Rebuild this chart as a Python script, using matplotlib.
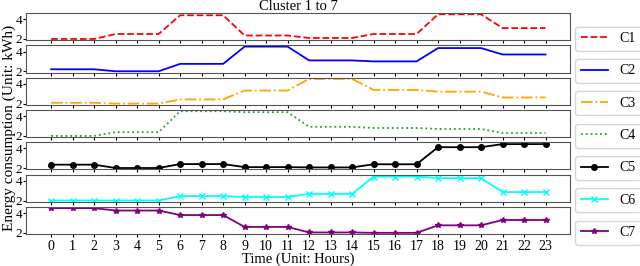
import numpy as np
import matplotlib
matplotlib.use('Agg')
import matplotlib.pyplot as plt

plt.rcParams['font.family'] = 'Liberation Serif'
plt.rcParams['font.size'] = 10

hours = list(range(24))

c1 = [2.0]*3 + [2.5]*3 + [4.4]*3 + [2.35]*3 + [2.1]*3 + [2.5]*3 + [4.5]*3 + [3.1]*3
c2 = [2.2]*3 + [2.0]*3 + [2.75]*3 + [4.5]*3 + [3.1]*3 + [3.0]*3 + [4.35]*3 + [3.7]*3
c3 = [2.08]*3 + [2.0]*3 + [2.42]*3 + [3.32]*3 + [4.5]*3 + [3.38]*3 + [3.21]*3 + [2.62]*3
c4 = [2.0]*3 + [2.38]*3 + [4.5]*3 + [4.4]*3 + [2.92]*3 + [2.8]*3 + [2.7]*3 + [2.3]*3
c5 = [2.36]*3 + [2.02]*3 + [2.42]*3 + [2.11]*3 + [2.08]*3 + [2.4]*3 + [4.13]*3 + [4.44]*3
c6 = [2.0]*6 + [2.45]*3 + [2.36]*3 + [2.67]*3 + [4.43]*3 + [4.27]*3 + [2.86]*3
c7 = [4.5]*3 + [4.26]*3 + [3.8]*3 + [2.6]*3 + [2.04]*3 + [2.0]*3 + [2.76]*3 + [3.3]*3

series = [c1, c2, c3, c4, c5, c6, c7]
labels = ['C1', 'C2', 'C3', 'C4', 'C5', 'C6', 'C7']
colors = ['red', 'blue', 'orange', 'tab:green', 'black', 'cyan', 'purple']
styles = ['--', '-', '-.', ':', '-', '-', '-']
markers = [None, None, None, None, 'o', 'x', '*']

fig, axes = plt.subplots(7, 1, figsize=(6.4, 2.66), dpi=100, sharex=True, sharey=True)
fig.subplots_adjust(left=0.041, right=0.89, top=0.951, bottom=0.12, hspace=0.19)

for ax, y, lab, col, ls, mk in zip(axes, series, labels, colors, styles, markers):
    ax.plot(hours, y, color=col, linestyle=ls, marker=mk, markersize=4, linewidth=1.3, label=lab)
    ax.set_yticks([2, 4])
    ax.set_ylim(1.875, 4.625)
    ax.set_xlim(-1.16, 24.12)
    for sp in ax.spines.values():
        sp.set_color('#555555')
    ax.tick_params(axis='y', length=2, pad=1, labelsize=9.5)
    ax.tick_params(axis='x', length=2, pad=2, labelsize=10)
    ax.legend(loc='upper left', bbox_to_anchor=(1.01, 0.5), fontsize=10, handlelength=2.0,
              borderaxespad=0)

axes[-1].set_xticks(hours)
axes[-1].set_xlabel('Time (Unit: Hours)', labelpad=0, fontsize=10.5)
axes[0].set_title('Cluster 1 to 7', fontsize=10.5, pad=0.5)
fig.text(0.004, 0.52, 'Energy consumption (Unit: kWh)', rotation=90, va='center', ha='left', fontsize=11)

fig.savefig('out.png', dpi=100)
